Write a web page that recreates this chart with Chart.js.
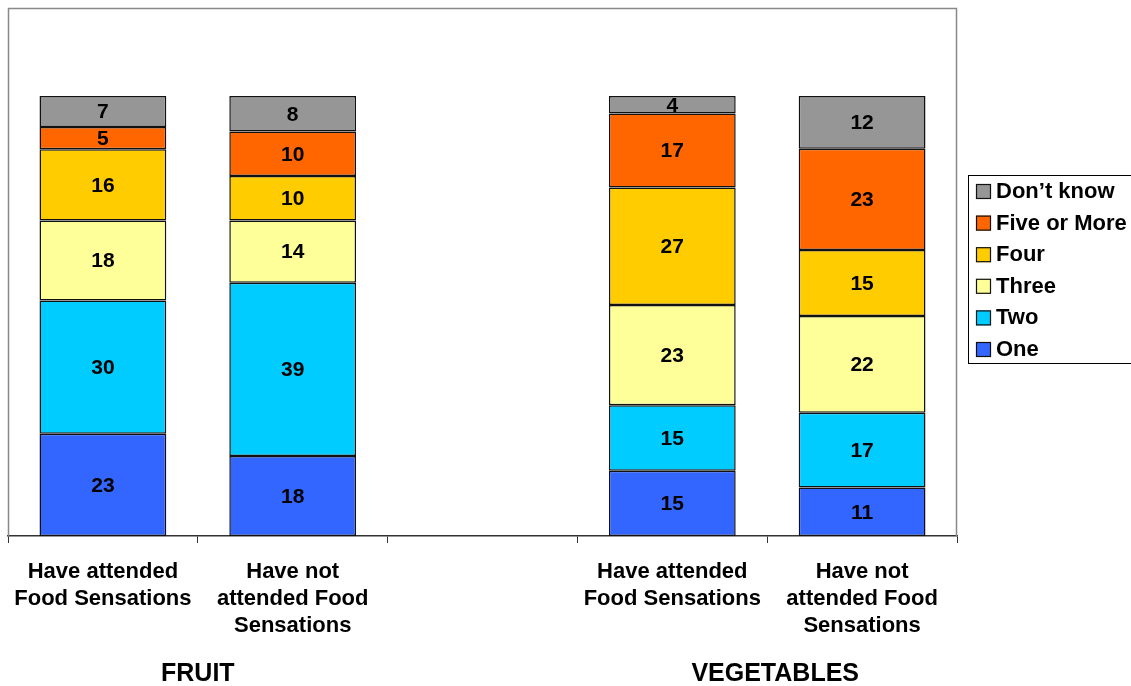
<!DOCTYPE html>
<html>
<head>
<meta charset="utf-8">
<script src="https://cdn.jsdelivr.net/npm/chart.js@4"></script>
<style>
html,body{margin:0;padding:0;background:#fff;}
#wrap{position:relative;width:1131px;height:686px;}
</style>
</head>
<body>
<div id="wrap"><canvas id="c"></canvas></div>
<script>
const categories = [
  ['Have attended', 'Food Sensations'],
  ['Have not', 'attended Food', 'Sensations'],
  '',
  ['Have attended', 'Food Sensations'],
  ['Have not', 'attended Food', 'Sensations']
];
const groupLabels = ['FRUIT', 'VEGETABLES'];
const seriesNames = ['One', 'Two', 'Three', 'Four', 'Five or More', 'Don\u2019t know'];
const one      = [23, 18, null, 15, 11];
const two      = [30, 39, null, 15, 17];
const three    = [18, 14, null, 23, 22];
const four     = [16, 10, null, 27, 15];
const fiveMore = [5, 10, null, 17, 23];
const dontKnow = [7, 8, null, 4, 12];
const colors = ['#3366FF', '#00CCFF', '#FFFF99', '#FFCC00', '#FF6600', '#969696'];

const raw = [one, two, three, four, fiveMore, dontKnow];
const totals = categories.map((_, i) => raw.reduce((s, arr) => s + (arr[i] || 0), 0));

const FONT = '"Liberation Sans", Arial, sans-serif';

const datasets = raw.map((arr, k) => ({
  label: seriesNames[k],
  raw: arr,
  data: arr.map((v, i) => v == null ? null : v / totals[i] * 100),
  backgroundColor: colors[k],
  borderColor: '#111',
  borderWidth: 1.5,
  borderSkipped: false,
  barPercentage: 0.668,
  categoryPercentage: 1.0
}));

const deco = {
  id: 'deco',
  beforeDatasetsDraw(chart) {
    const {ctx, chartArea: a} = chart;
    ctx.save();
    ctx.strokeStyle = '#888';
    ctx.lineWidth = 1.5;
    ctx.beginPath();
    ctx.moveTo(a.left + 0.5, a.bottom);
    ctx.lineTo(a.left + 0.5, a.top + 0.5);
    ctx.lineTo(a.right - 0.5, a.top + 0.5);
    ctx.lineTo(a.right - 0.5, a.bottom);
    ctx.stroke();
    ctx.restore();
  },
  afterDatasetsDraw(chart) {
    const {ctx} = chart;
    ctx.save();
    ctx.font = 'bold 21px ' + FONT;
    ctx.fillStyle = '#000';
    ctx.textAlign = 'center';
    ctx.textBaseline = 'middle';
    chart.data.datasets.forEach((ds, di) => {
      const meta = chart.getDatasetMeta(di);
      meta.data.forEach((el, i) => {
        const v = ds.raw[i];
        if (v == null) return;
        ctx.fillText(String(v), el.x, (el.y + el.base) / 2 + 1);
      });
    });
    // group labels
    const xs = chart.scales.x;
    ctx.font = 'bold 25px ' + FONT;
    const g1 = (xs.getPixelForValue(0) + xs.getPixelForValue(1)) / 2;
    const g2 = (xs.getPixelForValue(3) + xs.getPixelForValue(4)) / 2;
    ctx.fillText(groupLabels[0], g1, 674);
    ctx.fillText(groupLabels[1], g2 + 8, 674);
    // legend
    const lx = 968.5, ly = 175.5, lw = 170, lh = 188;
    ctx.strokeStyle = '#000';
    ctx.lineWidth = 1;
    ctx.strokeRect(lx, ly, lw, lh);
    ctx.textAlign = 'left';
    ctx.font = 'bold 22px ' + FONT;
    const n = chart.data.datasets.length;
    for (let j = 0; j < n; j++) {
      const ds = chart.data.datasets[n - 1 - j];
      const cy = 191 + j * 31.6;
      ctx.fillStyle = ds.backgroundColor;
      ctx.fillRect(976, cy - 7, 15, 15);
      ctx.strokeStyle = '#111';
      ctx.lineWidth = 1.2;
      ctx.strokeRect(976.5, cy - 6.5, 14, 14);
      ctx.fillStyle = '#000';
      ctx.fillText(ds.label, 996, cy + 1);
    }
    ctx.restore();
  }
};

new Chart(document.getElementById('c'), {
  type: 'bar',
  data: { labels: categories, datasets },
  options: {
    responsive: true,
    maintainAspectRatio: false,
    animation: false,
    layout: { padding: { left: 8, top: 8, right: 174, bottom: 0 } },
    plugins: { legend: { display: false }, tooltip: { enabled: false } },
    scales: {
      x: {
        stacked: true,
        offset: true,
        afterFit(scale) { scale.height = 150; scale.paddingLeft = 0; scale.paddingRight = 0; },
        grid: {
          offset: true,
          drawOnChartArea: false,
          drawTicks: true,
          tickLength: 7,
          color: '#333',
          tickColor: '#333'
        },
        border: { display: true, color: '#333', width: 1.5 },
        ticks: {
          color: '#000',
          padding: 15,
          maxRotation: 0,
          autoSkip: false,
          font: { family: FONT, size: 22, weight: 'bold', lineHeight: '27px' }
        }
      },
      y: {
        stacked: true,
        display: false,
        min: 0,
        max: 120
      }
    }
  },
  plugins: [deco]
});
</script>
</body>
</html>
